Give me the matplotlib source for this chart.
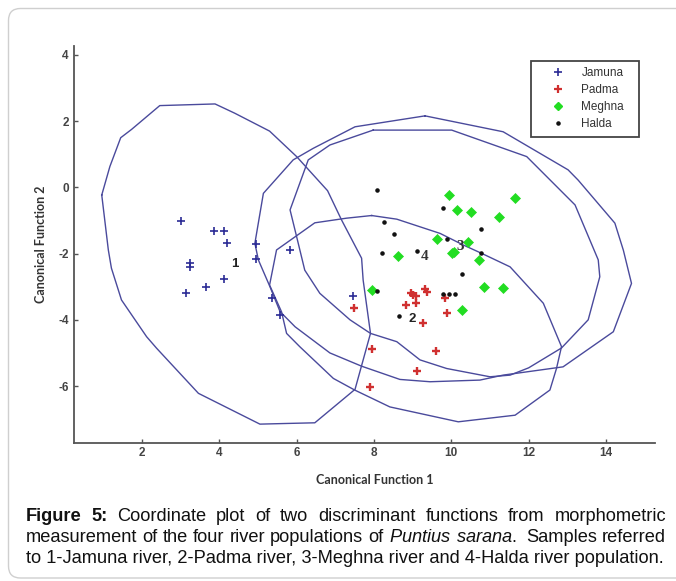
import matplotlib
matplotlib.use('Agg')
import matplotlib.pyplot as plt
from matplotlib.patches import FancyBboxPatch
from matplotlib.lines import Line2D
from matplotlib.transforms import IdentityTransform

plt.rcParams['mathtext.fontset'] = 'custom'
plt.rcParams['mathtext.rm'] = 'Liberation Sans'
plt.rcParams['mathtext.it'] = 'Liberation Sans:italic'
plt.rcParams['mathtext.bf'] = 'Liberation Sans:bold'

# ---------------- data ----------------
jamuna_x = [3.00, 3.87, 4.12, 4.20, 3.24, 3.24, 4.13, 3.65, 3.14, 4.95, 4.95, 5.83, 5.35, 5.57, 7.45]
jamuna_y = [-1.02, -1.33, -1.31, -1.67, -2.27, -2.40, -2.76, -3.00, -3.20, -1.72, -2.15, -1.89, -3.33, -3.85, -3.27]
padma_x = [7.48, 7.94, 7.89, 8.83, 8.95, 9.02, 9.08, 9.08, 9.33, 9.36, 9.83, 9.88, 9.26, 9.60, 9.12]
padma_y = [-3.65, -4.88, -6.04, -3.55, -3.20, -3.25, -3.28, -3.48, -3.08, -3.15, -3.35, -3.78, -4.11, -4.93, -5.54]
meghna_x = [9.94, 10.15, 10.50, 11.24, 11.65, 9.64, 10.44, 10.03, 10.07, 8.61, 10.71, 7.94, 10.84, 11.34, 10.27]
meghna_y = [-0.24, -0.67, -0.73, -0.90, -0.32, -1.56, -1.64, -1.99, -1.94, -2.07, -2.19, -3.10, -3.02, -3.05, -3.70]
halda_x = [8.07, 9.79, 8.26, 8.52, 8.21, 9.12, 9.90, 10.78, 10.78, 10.27, 8.09, 9.79, 9.93, 10.10, 8.64]
halda_y = [-0.08, -0.63, -1.04, -1.41, -1.97, -1.93, -1.56, -1.25, -1.99, -2.61, -3.13, -3.22, -3.22, -3.22, -3.89]

group_names = ["Jamuna", "Padma", "Meghna", "Halda"]
group_label_text = ["1", "2", "3", "4"]
group_label_x = [4.41, 8.98, 10.22, 9.30]
group_label_y = [-2.32, -3.96, -1.79, -2.09]

# confidence-region outlines (polygon vertices)
ell1_x = [0.96, 1.17, 1.45, 1.73, 2.46, 3.89, 4.40, 5.30, 6.00, 6.80, 7.16, 7.68, 7.72, 7.91, 7.51, 6.47, 5.74, 5.05, 3.46, 2.38, 2.12, 1.47, 1.21, 1.13, 0.96]
ell1_y = [-0.23, 0.63, 1.50, 1.75, 2.47, 2.52, 2.24, 1.70, 0.93, -0.10, -0.98, -2.14, -2.80, -4.41, -6.10, -7.11, -7.13, -7.15, -6.22, -4.86, -4.51, -3.40, -2.44, -1.89, -0.23]
ell2_x = [7.94, 8.59, 9.71, 10.31, 10.78, 11.52, 12.38, 12.85, 12.72, 12.55, 11.65, 10.18, 8.41, 7.50, 6.95, 6.08, 5.74, 5.61, 5.30, 5.48, 6.47, 7.29, 7.94]
ell2_y = [-0.85, -0.96, -1.39, -1.74, -1.99, -2.40, -3.50, -4.81, -5.47, -6.12, -6.88, -7.08, -6.63, -6.12, -5.77, -4.81, -4.41, -3.76, -2.95, -1.89, -1.07, -0.93, -0.85]
ell3_x = [7.98, 10.01, 11.95, 13.20, 13.80, 13.84, 13.54, 12.85, 12.00, 11.52, 11.00, 9.88, 9.19, 8.59, 7.91, 7.38, 6.60, 6.21, 6.00, 5.83, 6.30, 6.86, 7.98]
ell3_y = [1.73, 1.73, 0.93, -0.53, -2.19, -2.70, -4.00, -4.85, -5.45, -5.67, -5.72, -5.47, -5.21, -4.66, -4.41, -4.00, -3.20, -2.50, -1.49, -0.68, 0.83, 1.28, 1.73]
ell4_x = [9.32, 11.34, 13.02, 13.28, 14.23, 14.45, 14.66, 14.19, 12.89, 11.34, 10.74, 9.45, 8.67, 7.68, 6.86, 5.96, 5.57, 5.31, 5.01, 4.92, 5.14, 5.91, 6.43, 7.51, 9.32]
ell4_y = [2.16, 1.68, 0.53, 0.22, -1.08, -1.90, -2.90, -4.36, -5.42, -5.67, -5.82, -5.87, -5.80, -5.40, -5.00, -4.21, -3.75, -3.00, -2.19, -1.69, -0.18, 0.83, 1.18, 1.83, 2.16]

x_ticks = [2, 4, 6, 8, 10, 12, 14]
y_ticks = [4, 2, 0, -2, -4, -6]
x_limits = (0.25, 15.26)
y_limits = (-7.72, 4.27)

x_label = "Canonical Function 1"
y_label = "Canonical Function 2"

# caption words: (text, weight)
caption_lines = [
    [("Figure", "bold"), ("5:", "bold"), ("Coordinate", "normal"), ("plot", "normal"), ("of", "normal"),
     ("two", "normal"), ("discriminant", "normal"), ("functions", "normal"), ("from", "normal"),
     ("morphometric", "normal")],
    [("measurement", "normal"), ("of", "normal"), ("the", "normal"), ("four", "normal"), ("river", "normal"),
     ("populations", "normal"), ("of", "normal"), (r"$\mathit{Puntius}$", "normal"),
     (r"$\mathit{sarana}$.", "normal"), ("Samples", "normal"), ("referred", "normal")],
]
caption_last = "to 1-Jamuna river, 2-Padma river, 3-Meghna river and 4-Halda river population."

# ---------------- figure ----------------
W, H = 676, 581
fig = plt.figure(figsize=(W / 100, H / 100), dpi=100)
fig.patch.set_facecolor('white')

# rounded frame around the whole figure panel
frame = FancyBboxPatch((8.5, 3), 720, 569.5, boxstyle="round,pad=0,rounding_size=12",
                       transform=IdentityTransform(), facecolor='none',
                       edgecolor='#cfcfcf', linewidth=1.0)
fig.patches.append(frame)

ax_left, ax_right, ax_top, ax_bot = 74.3, 654.7, 46, 443
ax = fig.add_axes([ax_left / W, 1 - ax_bot / H, (ax_right - ax_left) / W, (ax_bot - ax_top) / H])
ax.set_xlim(*x_limits)
ax.set_ylim(*y_limits)

ell_color = '#4a4a9c'
for ex, ey in [(ell1_x, ell1_y), (ell2_x, ell2_y), (ell3_x, ell3_y), (ell4_x, ell4_y)]:
    ax.plot(ex, ey, color=ell_color, lw=1.0, zorder=2)

ax.plot(jamuna_x, jamuna_y, linestyle='none', marker='+', ms=6, mew=1.2, color='#2b2b95', zorder=3)
ax.plot(padma_x, padma_y, linestyle='none', marker='+', ms=5.5, mew=1.7, color='#d03030', zorder=3)
ax.plot(meghna_x, meghna_y, linestyle='none', marker='D', ms=5, mew=0.5, color='#22dd22', zorder=3)
ax.plot(halda_x, halda_y, linestyle='none', marker='.', ms=4.5, color='#111111', zorder=3)

fonts_lab = ['Liberation Sans', 'DejaVu Sans']
fonts_serif = ['Liberation Serif', 'DejaVu Serif']
for i, (t, lx, ly) in enumerate(zip(group_label_text, group_label_x, group_label_y)):
    if i < 2:
        ax.text(lx, ly, t, fontsize=9.5, fontweight='bold', family=fonts_lab, color='#222222',
                ha='center', va='center', zorder=4)
    else:
        ax.text(lx, ly, t, fontsize=11, fontweight='bold', family=fonts_serif, color='#333333',
                ha='center', va='center', zorder=4)

for s in ['top', 'right']:
    ax.spines[s].set_visible(False)
for s in ['left', 'bottom']:
    ax.spines[s].set_color('#555555')
    ax.spines[s].set_linewidth(1.3)

ax.set_xticks(x_ticks)
ax.set_yticks(y_ticks)
ax.set_xticklabels([str(v) for v in x_ticks])
ax.set_yticklabels([str(v) for v in y_ticks])
ax.tick_params(direction='in', length=3, width=1, colors='#555555', labelsize=8.5)
ax.tick_params(axis='x', pad=3)
ax.tick_params(axis='y', pad=4)
for lab in ax.get_xticklabels() + ax.get_yticklabels():
    lab.set_family(fonts_lab)
    lab.set_color('#444444')
    lab.set_fontweight('bold')

ax.set_xlabel(x_label, fontsize=9, fontweight='bold', family=['Lato', 'DejaVu Sans'], color='#333333')
ax.set_ylabel(y_label, fontsize=9, fontweight='bold', family=['Lato', 'DejaVu Sans'], color='#333333')
ax.xaxis.set_label_coords(0.518, -0.078)
ax.yaxis.set_label_coords(-0.047, 0.5)

handles = [
    Line2D([], [], linestyle='none', marker='+', ms=6, mew=1.2, color='#2b2b95'),
    Line2D([], [], linestyle='none', marker='+', ms=5.5, mew=1.6, color='#d03030'),
    Line2D([], [], linestyle='none', marker='D', ms=4.5, color='#22dd22'),
    Line2D([], [], linestyle='none', marker='.', ms=4.5, color='#111111'),
]
leg_x0 = (530.7 - ax_left) / (ax_right - ax_left)
leg_w = (639.3 - 530.7) / (ax_right - ax_left)
leg_top = (ax_bot - 60.7) / (ax_bot - ax_top)
leg = ax.legend(handles, group_names, loc='upper left', mode='expand',
                bbox_to_anchor=(leg_x0, leg_top - 0.3, leg_w, 0.3),
                borderaxespad=0, frameon=True, fancybox=False, framealpha=1,
                edgecolor='#444444', prop={'family': fonts_lab, 'size': 8.5},
                handlelength=3.6, handletextpad=0.15, borderpad=0.55, labelspacing=0.42)
leg.get_frame().set_linewidth(1.3)
for t in leg.get_texts():
    t.set_color('#333333')

# ---------------- caption ----------------
cap_font = ['Liberation Sans', 'DejaVu Sans']
renderer = fig.canvas.get_renderer()
cap_left, cap_right = 25.5, 666.0
baselines = [H - 521, H - 542, H - 563]


def measure(txt, fs, weight):
    t = fig.text(0, 0, txt, fontsize=fs, fontweight=weight, family=cap_font,
                 transform=IdentityTransform())
    wdt = t.get_window_extent(renderer).width
    t.remove()
    return wdt


# font size chosen so that the last (unjustified) line spans the text width
fs0 = 10.0
cap_fs = fs0 * (cap_right - cap_left) / measure(caption_last, fs0, 'normal')

# justified first two lines
for li, line in enumerate(caption_lines):
    widths = [measure(w, cap_fs, wt) for w, wt in line]
    gap = (cap_right - cap_left - sum(widths)) / (len(line) - 1)
    extra = [0.0] * len(line)
    if li == 1:
        idx = [w for w, _ in line].index("Samples")
        gap = (cap_right - cap_left - sum(widths) - gap * 0.6) / (len(line) - 1)
        extra[idx] = gap * 0.6
    x = cap_left
    for (w, wt), wd, ex in zip(line, widths, extra):
        x += ex
        fig.text(x, baselines[li], w, fontsize=cap_fs, fontweight=wt, family=cap_font,
                 color='#111111', transform=IdentityTransform(), va='baseline', ha='left')
        x += wd + gap

fig.text(cap_left, baselines[2], caption_last, fontsize=cap_fs, family=cap_font, color='#111111',
         transform=IdentityTransform(), va='baseline', ha='left')

fig.savefig('out.png', dpi=100, facecolor='white')
